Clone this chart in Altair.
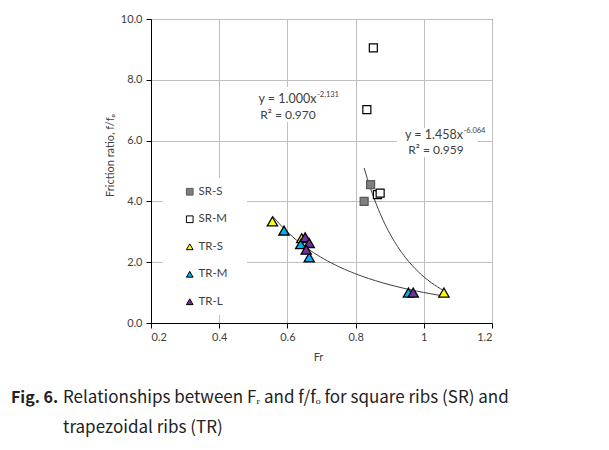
import altair as alt
import pandas as pd

# ---- data ----
series = ["SR-S", "SR-M", "TR-S", "TR-M", "TR-L"]

sr_s_fr = [0.825, 0.844]
sr_s_ratio = [4.00, 4.55]

sr_m_fr = [0.833, 0.852, 0.864, 0.872]
sr_m_ratio = [7.02, 9.05, 4.22, 4.27]

tr_s_fr = [0.556, 0.642, 1.059]
tr_s_ratio = [3.34, 2.79, 1.00]

tr_m_fr = [0.590, 0.639, 0.664, 0.955]
tr_m_ratio = [3.04, 2.59, 2.16, 1.00]

tr_l_fr = [0.652, 0.664, 0.655, 0.969]
tr_l_ratio = [2.82, 2.63, 2.41, 1.00]

# points used for the square-rib power trend line
sr_fit_fr = [0.825, 0.844, 0.864, 0.872, 1.059]
sr_fit_ratio = [4.00, 4.55, 4.22, 4.27, 1.00]

x_ticks = [0.2, 0.4, 0.6, 0.8, 1.0, 1.2]
y_ticks = [0, 2, 4, 6, 8, 10]

fills = ["#7f7f7f", "#ffffff", "#ffff00", "#00b0f0", "#7030a0"]
strokes = ["#595959", "#000000", "#000000", "#000000", "#000000"]
shapes = ["square", "square", "triangle-up", "triangle-up", "triangle-up"]

rows = []
for name, xs, ys in [("SR-S", sr_s_fr, sr_s_ratio), ("SR-M", sr_m_fr, sr_m_ratio),
                     ("TR-S", tr_s_fr, tr_s_ratio), ("TR-M", tr_m_fr, tr_m_ratio),
                     ("TR-L", tr_l_fr, tr_l_ratio)]:
    for a, b in zip(xs, ys):
        rows.append({"series": name, "Fr": a, "ratio": b})
df = pd.DataFrame(rows)
sr_df = df[df["series"].str.startswith("SR")]
tr_df = df[df["series"].str.startswith("TR")]
sr_fit_df = pd.DataFrame({"Fr": sr_fit_fr, "ratio": sr_fit_ratio})

FONT = "Lato"
TXT = "#404040"
CAP = "Noto Sans CJK KR"

xenc = alt.X("Fr:Q", scale=alt.Scale(domain=[0.2, 1.2], nice=False, zero=False),
             axis=alt.Axis(values=x_ticks, format="~g", title="Fr",
                           titleX=167, titleY=34, titleBaseline="middle",
                           labelPadding=3))
yenc = alt.Y("ratio:Q", scale=alt.Scale(domain=[0, 10], nice=False),
             axis=alt.Axis(values=y_ticks, format=".1f", title="Friction ratio, f/fₒ",
                           titleAngle=270, titleX=-41, titleY=136,
                           titleAlign="center", titleBaseline="middle",
                           labelPadding=4))

leg = alt.Legend(title=None, orient="none", legendX=33, legendY=167,
                 symbolSize=45, labelFontSize=11.5, labelFont=FONT, labelColor=TXT,
                 rowPadding=14.5, padding=0, symbolStrokeWidth=1, labelOffset=3)

shape_enc = alt.Shape("series:N", scale=alt.Scale(domain=series, range=shapes), legend=leg)
fill_enc = alt.Fill("series:N", scale=alt.Scale(domain=series, range=fills), legend=leg)
stroke_enc = alt.Stroke("series:N", scale=alt.Scale(domain=series, range=strokes), legend=leg)

one = pd.DataFrame({"k": [0]})

def box(x0, x1, y0, y1):
    return alt.Chart(one).mark_rect(color="white").encode(
        x=alt.value(x0), x2=alt.value(x1), y=alt.value(y0), y2=alt.value(y1))

def label(text, x, y, size=12.5, align="left", weight="normal", font=FONT,
          color=TXT, baseline="middle"):
    return alt.Chart(one).mark_text(text=text, align=align, baseline=baseline,
                                    fontSize=size, font=font, fontWeight=weight,
                                    color=color).encode(x=alt.value(x), y=alt.value(y))

tr_line = alt.Chart(tr_df).transform_regression(
    "Fr", "ratio", method="pow").mark_line(color="#404040", strokeWidth=1).encode(
    x=xenc, y=yenc)
sr_line = alt.Chart(sr_fit_df).transform_regression(
    "Fr", "ratio", method="pow").mark_line(color="#404040", strokeWidth=1).encode(
    x=xenc, y=yenc)

sq_points = alt.Chart(sr_df).mark_point(filled=True, opacity=1, strokeWidth=1.2, size=64).encode(
    x=xenc, y=yenc, shape=shape_enc, fill=fill_enc, stroke=stroke_enc)
tri_points = alt.Chart(tr_df).mark_point(filled=True, opacity=1, strokeWidth=1.3, size=105).encode(
    x=xenc, y=yenc, shape=shape_enc, fill=fill_enc, stroke=stroke_enc)

layers = [
    box(12, 96, 159, 296),
    box(97, 177, 68, 103),
    box(246, 327, 109, 138),
    sr_line, tr_line, sq_points, tri_points,
    label("y = 1.000x", 165.5, 80, align="right"),
    label("-2.131", 166, 75.5, size=7.5),
    label("R² = 0.970", 137, 95.5, align="center", size=12),
    label("y = 1.458x", 312, 116, align="right"),
    label("-6.064", 312.5, 111.5, size=7.5),
    label("R² = 0.959", 285, 131, align="center", size=12),
    label("Fig. 6.", -140, 384, size=16, weight="bold", font=CAP,
          color="#222222", baseline="alphabetic"),
    label("Relationships between Fᵣ and f/fₒ for square ribs (SR) and", -88, 384,
          size=17, font=CAP, color="#222222", baseline="alphabetic"),
    label("trapezoidal ribs (TR)", -88, 414, size=17, font=CAP,
          color="#222222", baseline="alphabetic"),
]

chart = alt.layer(*layers).properties(
    width=341, height=304,
    autosize=alt.AutoSizeParams(type="none"),
    padding={"left": 143, "top": 11, "right": 100, "bottom": 125},
).configure_view(stroke="#000000", strokeWidth=1).configure_axis(
    domainColor="#000000", tickColor="#000000", tickSize=5,
    gridColor="#bfbfbf", gridWidth=1,
    labelFont=FONT, labelFontSize=11, labelColor=TXT,
    titleFont=FONT, titleFontSize=11, titleColor=TXT, titleFontWeight="normal",
).configure_legend(labelFont=FONT)

chart.save("out.html", embed_options={"renderer": "svg", "actions": False})
